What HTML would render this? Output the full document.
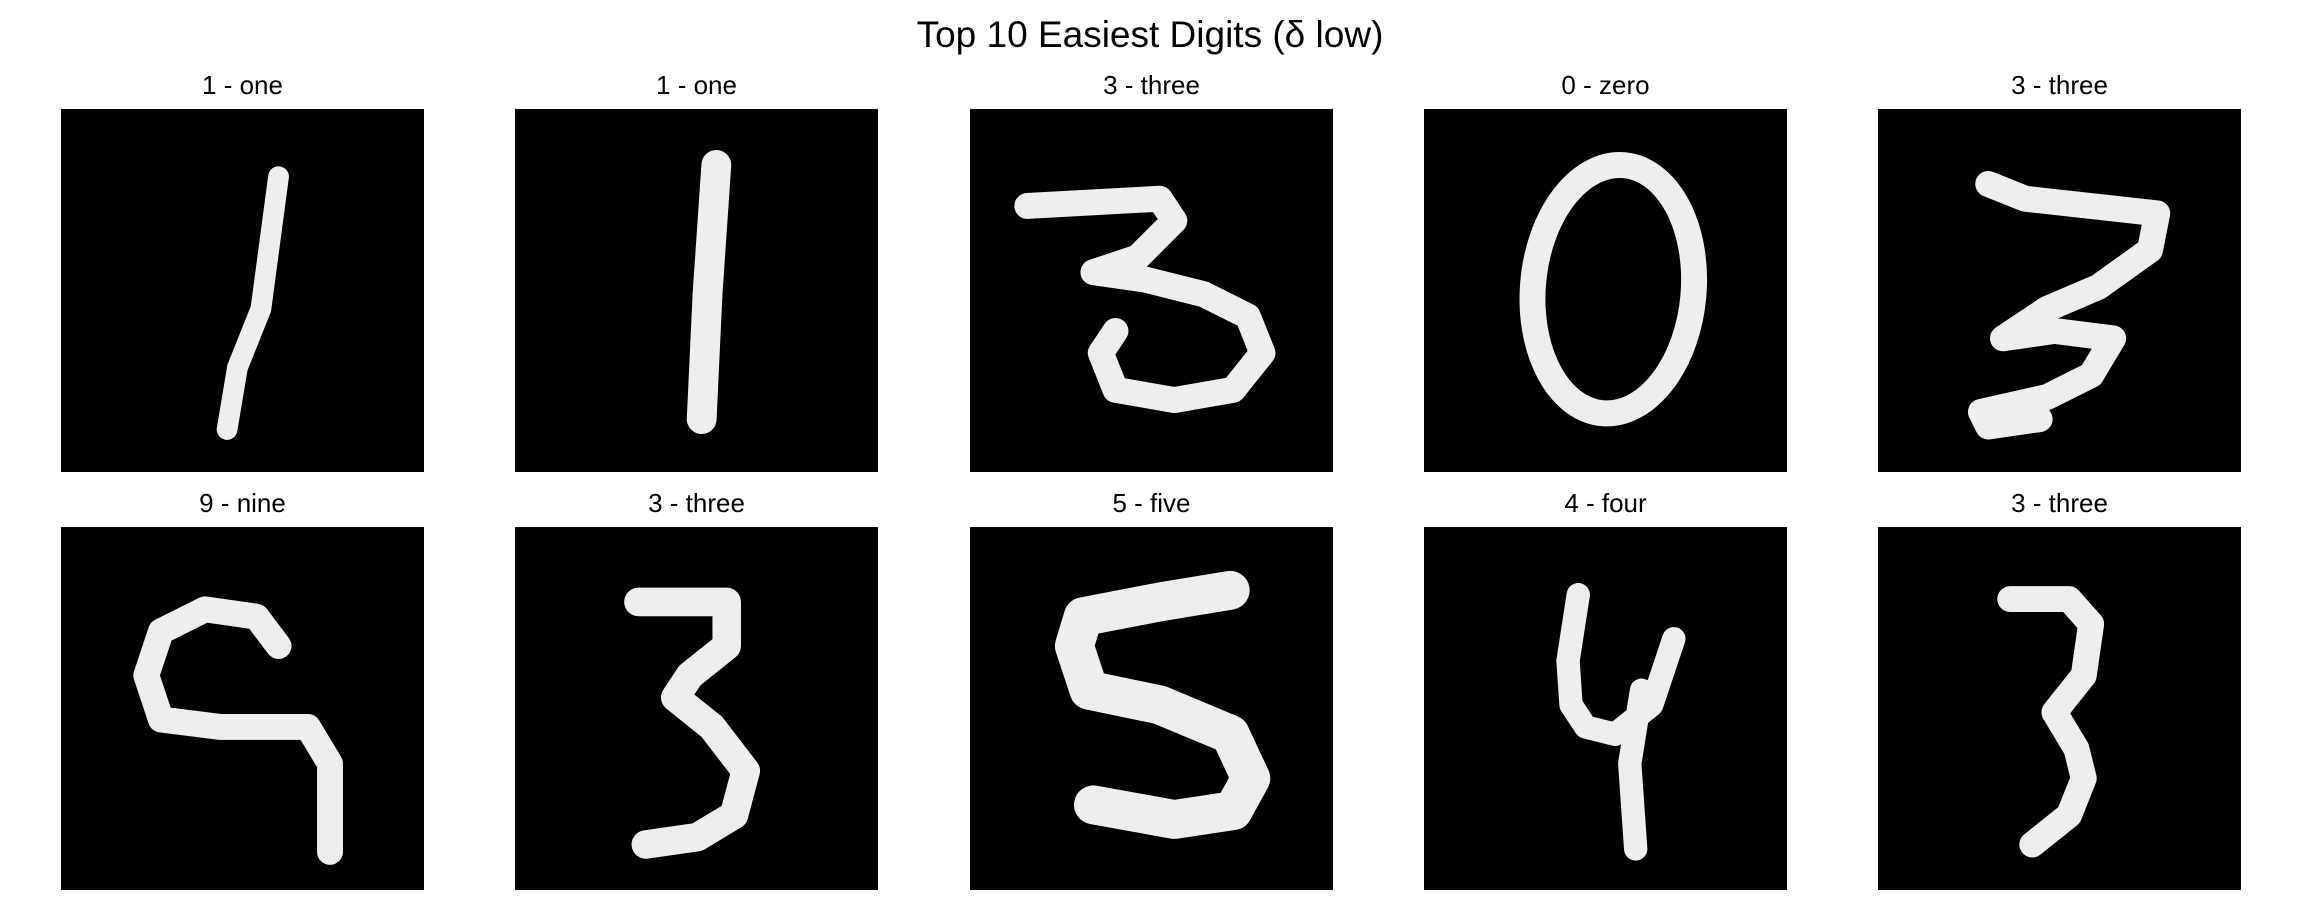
<!DOCTYPE html>
<html><head><meta charset="utf-8">
<style>
body{margin:0;background:#fff;width:2300px;height:919px;position:relative;overflow:hidden;font-family:"Liberation Sans","DejaVu Sans",sans-serif;}
#title{position:absolute;left:0;width:2300px;top:14px;text-align:center;font-size:37px;color:#000;}
.pt{position:absolute;width:363px;text-align:center;font-size:26px;color:#000;}
svg.img{position:absolute;width:363px;height:363px;background:#000;}
</style></head><body>
<div id="title">Top 10 Easiest Digits (δ low)</div>
<div id="root"></div>
<script>
const labels=["1 - one","1 - one","3 - three","0 - zero","3 - three","9 - nine","3 - three","5 - five","4 - four","3 - three"];
const lefts=[61,515,970,1424,1878];
const tops=[109,527];
const dispX=[42,351,661,970,1280];
const dispY=[74,359];
const strokes=[
 [[[190,120],[178,210],[162,250],[155,292]]],
 [[[488,112],[482,200],[478,285]]],
 [[[700,140],[790,135],[800,150],[775,175],[745,185],[780,190],[820,200],[850,215],[860,240],[840,265],[800,272],[760,265],[750,240],[760,225]]],
 null,
 [[[1355,125],[1380,135],[1470,145],[1465,170],[1430,195],[1395,210],[1365,230],[1400,225],[1440,230],[1425,255],[1395,270],[1350,280],[1355,290],[1390,285]]],
 [[[190,440],[175,420],[140,415],[110,430],[100,460],[110,490],[150,495],[210,495],[225,520],[225,580]]],
 [[[435,410],[495,410],[495,440],[470,460],[460,475],[485,495],[508,525],[500,555],[475,570],[440,575]]],
 [[[838,402],[790,410],[738,420],[732,440],[742,470],[790,480],[838,500],[852,530],[840,552],[800,558],[745,548]]],
 [[[1075,405],[1068,450],[1070,480],[1080,495],[1100,500],[1125,480],[1140,435]],[[1118,470],[1110,520],[1114,578]]],
 [[[1370,408],[1410,408],[1425,425],[1420,460],[1400,485],[1415,510],[1420,530],[1410,555],[1385,575]]]
];
const widths=[1.6,2.3,2.0,2.0,2.0,2.0,2.2,3.0,1.8,2.0];
const root=document.getElementById('root');
const NS='http://www.w3.org/2000/svg';
for(let i=0;i<10;i++){
 const r=Math.floor(i/5),c=i%5;
 const t=document.createElement('div');
 t.className='pt';
 
 
 t.style.left=lefts[c]+'px';t.style.top=(tops[r]-39)+'px';
 t.textContent=labels[i];
 root.appendChild(t);
 const s=document.createElementNS(NS,'svg');
 s.setAttribute('class','img');
 
 
 s.setAttribute('viewBox','0 0 28 28');
 s.style.left=lefts[c]+'px';s.style.top=tops[r]+'px';
 if(strokes[i]){
  strokes[i].forEach(st=>{
   const p=document.createElementNS(NS,'polyline');
   
   
   p.setAttribute('points',st.map(q=>((q[0]-dispX[c])/8.82).toFixed(2)+','+((q[1]-dispY[r])/8.82).toFixed(2)).join(' '));
   p.setAttribute('fill','none');p.setAttribute('stroke','#eeeeee');
   p.setAttribute('stroke-width',widths[i]);
   p.setAttribute('stroke-linecap','round');p.setAttribute('stroke-linejoin','round');
   s.appendChild(p);
  });
 } else {
  const e=document.createElementNS(NS,'ellipse');
  
  
  e.setAttribute('cx',14.6);e.setAttribute('cy',13.9);e.setAttribute('rx',6.2);e.setAttribute('ry',9.6);
  e.setAttribute('transform','rotate(5 14.6 13.9)');
  e.setAttribute('fill','none');e.setAttribute('stroke','#eeeeee');e.setAttribute('stroke-width',widths[i]);
  s.appendChild(e);
 }
 root.appendChild(s);
}
</script>
</body></html>
